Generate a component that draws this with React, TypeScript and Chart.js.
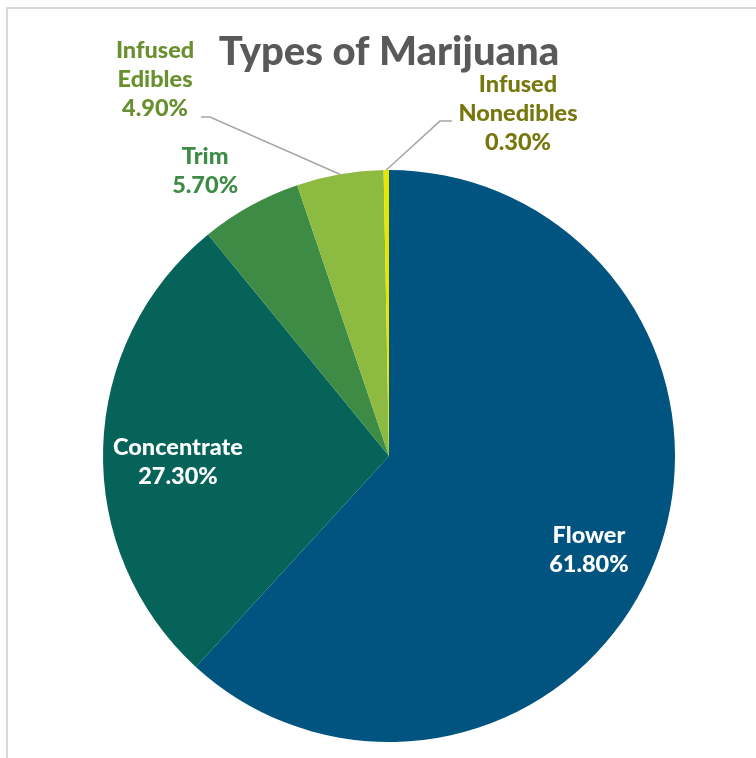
import React, { useEffect, useRef } from "react";
import { Chart, registerables } from "chart.js";

Chart.register(...registerables);

const categories = ["Flower", "Concentrate", "Trim", "Infused Edibles", "Infused Nonedibles"];
const shares = [61.8, 27.3, 5.7, 4.9, 0.3];
const sliceColors = ["#01547F", "#05635A", "#3D8B45", "#8DBB42", "#E6E600"];
const labelColors = ["#FFFFFF", "#FFFFFF", "#3D8B45", "#69902E", "#77770E"];
const titleText = "Types of Marijuana";

// label placement in units of pie radius, relative to pie centre
const placements = [
  { dx: 0.699, dy: 0.329, lines: 1 },
  { dx: -0.738, dy: 0.021, lines: 1 },
  { dx: -0.643, dy: -0.997, lines: 1 },
  { dx: -0.818, dy: -1.318, lines: 2, elbow: [-0.626, -1.185], end: [-0.657, -1.185] },
  { dx: 0.451, dy: -1.199, lines: 2, elbow: [0.178, -1.171], end: [0.22, -1.171] },
];

const FONT = "Lato, 'DejaVu Sans', sans-serif";

const sliceLabels = {
  id: "sliceLabels",
  afterDatasetsDraw(chart: any) {
    const meta = chart.getDatasetMeta(0);
    const ctx = chart.ctx as CanvasRenderingContext2D;
    ctx.save();
    meta.data.forEach((arc: any, i: number) => {
      const p = arc.getProps(["x", "y", "startAngle", "endAngle", "outerRadius"], true);
      const R = p.outerRadius;
      const place = placements[i];
      const cx = p.x + place.dx * R;
      const cy = p.y + place.dy * R;
      if (place.elbow) {
        const mid = (p.startAngle + p.endAngle) / 2;
        ctx.beginPath();
        ctx.strokeStyle = "#A6A6A6";
        ctx.lineWidth = 1.5;
        ctx.moveTo(p.x + Math.cos(mid) * R, p.y + Math.sin(mid) * R);
        ctx.lineTo(p.x + place.elbow[0] * R, p.y + place.elbow[1] * R);
        ctx.lineTo(p.x + place.end[0] * R, p.y + place.end[1] * R);
        ctx.stroke();
      }
      const name = categories[i];
      const nameLines = place.lines === 2 ? name.split(" ") : [name];
      const lines = [...nameLines, shares[i].toFixed(2) + "%"];
      const lh = 29;
      ctx.fillStyle = labelColors[i];
      ctx.font = `900 23.5px ${FONT}`;
      ctx.textAlign = "center";
      ctx.textBaseline = "middle";
      const y0 = cy - ((lines.length - 1) * lh) / 2;
      lines.forEach((t, k) => ctx.fillText(t, cx, y0 + k * lh));
    });
    ctx.restore();
  },
};

export default function App() {
  const ref = useRef<HTMLCanvasElement>(null);
  useEffect(() => {
    if (!ref.current) return;
    const chart = new Chart(ref.current, {
      type: "pie",
      data: {
        labels: categories,
        datasets: [
          {
            data: shares,
            backgroundColor: sliceColors,
            borderWidth: 0,
          },
        ],
      },
      options: {
        responsive: false,
        animation: false,
        layout: { padding: { top: 0, left: 103, right: 81, bottom: 16 } },
        plugins: {
          legend: { display: false },
          tooltip: { enabled: false },
          title: {
            display: true,
            text: titleText,
            color: "#595959",
            font: { family: FONT, size: 40, weight: "900", lineHeight: 1.2 },
            padding: { top: 28, bottom: 94 },
          },
        },
      },
      plugins: [sliceLabels],
    });
    return () => chart.destroy();
  }, []);
  return (
    <>
      <div
        style={{
          position: "absolute",
          left: 6,
          top: 7,
          width: 800,
          height: 800,
          borderTop: "2px solid #D9D9D9",
          borderLeft: "2px solid #D9D9D9",
          boxSizing: "border-box",
        }}
      />
      <canvas
        ref={ref}
        width={756}
        height={758}
        style={{ position: "absolute", left: 0, top: 0, width: 756, height: 758 }}
      />
    </>
  );
}
